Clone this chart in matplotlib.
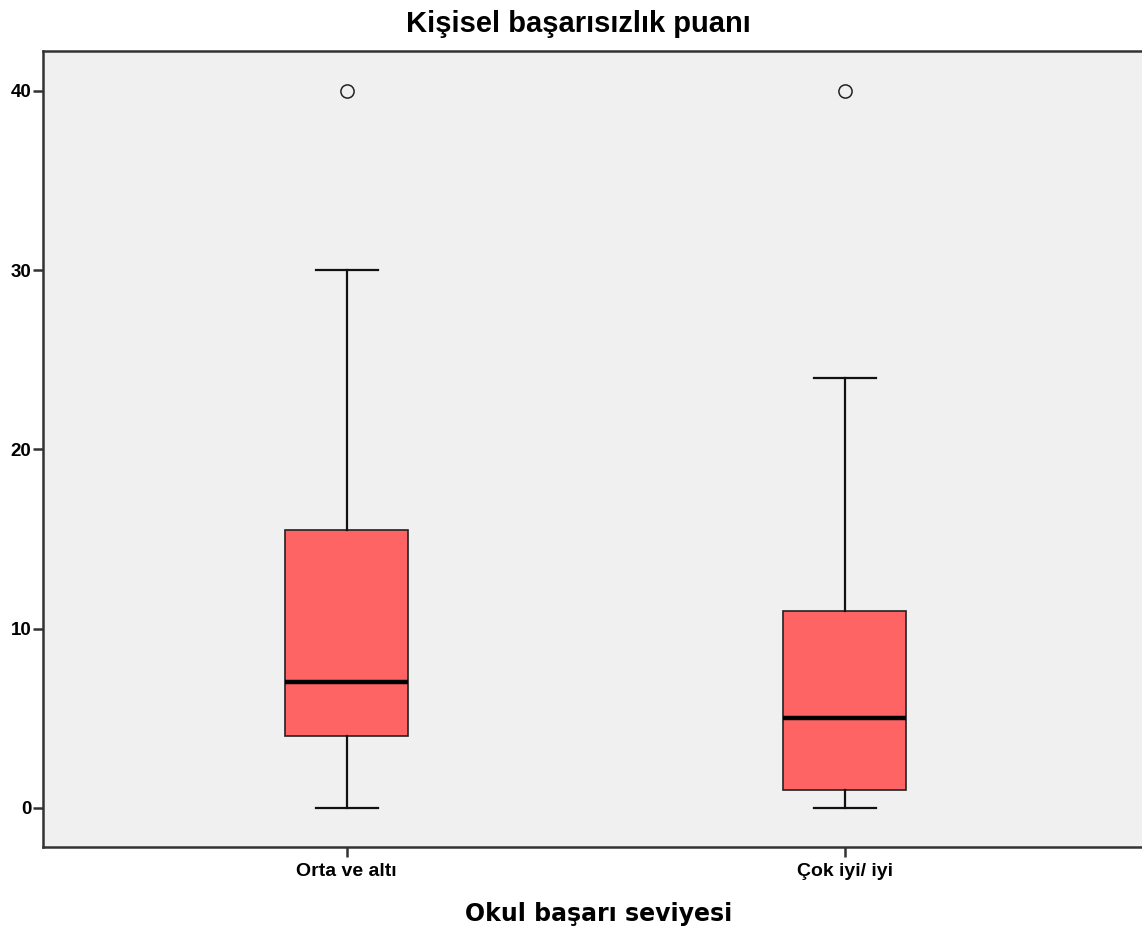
import matplotlib.pyplot as plt
import numpy as np

# ---------- data ----------
groups = ["Orta ve altı", "Çok iyi/ iyi"]
q1 = [4, 1]
median = [7, 5]
q3 = [15.5, 11]
whisker_low = [0, 0]
whisker_high = [30, 24]
outliers = [[40], [40]]
yticks = [0, 10, 20, 30, 40]

plt.rcParams["font.family"] = ["Liberation Sans", "DejaVu Sans"]

fig = plt.figure(figsize=(11.42, 9.36), dpi=100)
ax = fig.add_axes([43 / 1142, 1 - 847 / 936, 1.01 - 43 / 1142, (847 - 51) / 936])
ax.set_facecolor("#f0f0f0")

stats = []
for i in range(len(groups)):
    stats.append({
        "med": median[i], "q1": q1[i], "q3": q3[i],
        "whislo": whisker_low[i], "whishi": whisker_high[i],
        "fliers": outliers[i], "label": groups[i],
    })

positions = np.arange(1, len(groups) + 1)
ax.bxp(stats, positions=positions, widths=0.247, patch_artist=True,
       showfliers=True,
       boxprops=dict(facecolor="#ff6464", edgecolor="#222222", linewidth=1.2),
       medianprops=dict(color="black", linewidth=3.2),
       whiskerprops=dict(color="#111111", linewidth=1.6),
       capprops=dict(color="#111111", linewidth=1.6),
       capwidths=0.125,
       flierprops=dict(marker="o", markerfacecolor="none", markeredgecolor="#222222",
                       markersize=9.5, markeredgewidth=1.1))

ax.set_xlim(0.39, 2.62)
ax.set_ylim(-2.18, 42.23)
ax.set_yticks(yticks)
ax.set_xticks(positions)

ax.set_xticklabels(groups, fontsize=14, fontweight="bold")
ax.set_yticklabels([str(v) for v in yticks], fontsize=13.5, fontweight="bold")

ax.tick_params(axis="both", length=7.5, width=1.8, color="#333333", pad=1)
ax.tick_params(axis="x", pad=4)
ax.spines["right"].set_visible(False)
for side in ["left", "bottom", "top"]:
    ax.spines[side].set_color("#333333")
    ax.spines[side].set_linewidth(1.8)

ax.set_title("Kişisel başarısızlık puanı", fontsize=21, fontweight="bold",
             x=0.482, pad=14)
ax.set_xlabel("Okul başarı seviyesi", fontsize=17, fontweight="bold",
              family="DejaVu Sans", labelpad=16)

plt.savefig("out.png", dpi=100)
